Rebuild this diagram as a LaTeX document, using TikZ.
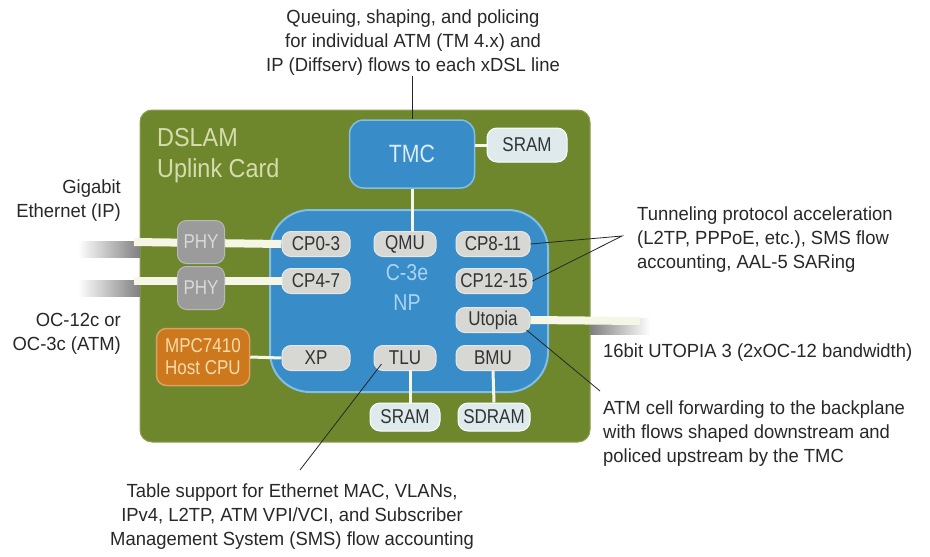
\documentclass[tikz,border=0pt]{standalone}
\usepackage{fontspec}
\setmainfont{Liberation Sans}
\newfontfamily\narrowf[FakeStretch=0.85]{Liberation Sans}
\newfontfamily\cardf[FakeStretch=0.9]{Liberation Sans}
\newfontfamily\notef[FakeStretch=0.97]{Liberation Sans}
\definecolor{card}{RGB}{111,135,44}
\definecolor{npblue}{RGB}{56,140,200}
\definecolor{npedge}{RGB}{130,190,230}
\definecolor{chipgray}{RGB}{215,215,212}
\definecolor{memfill}{RGB}{222,234,236}
\definecolor{phygray}{RGB}{155,155,155}
\definecolor{cpuorange}{RGB}{205,120,28}
\definecolor{wirecol}{RGB}{246,246,230}
\definecolor{notetext}{RGB}{40,40,40}
\tikzset{
  chip/.style={draw=chipgray!60!white, line width=1pt, fill=chipgray, rounded corners=9pt, minimum height=25pt, inner sep=0pt, text=black!80, font=\narrowf\fontsize{20}{20}\selectfont},
  mem/.style={draw=white, line width=1pt, fill=memfill, rounded corners=10pt, minimum height=28pt, inner sep=0pt, text=black!80, font=\narrowf\fontsize{20}{20}\selectfont},
  phy/.style={draw=phygray!70!white, line width=1pt, fill=phygray, rounded corners=9pt, minimum width=47pt, minimum height=43pt, inner sep=0pt, text=white!85!black, font=\narrowf\fontsize{20}{20}\selectfont},
  wire/.style={draw=wirecol, line width=3pt},
  thickwire/.style={draw=wirecol, line width=8pt},
  note/.style={text=notetext, font=\notef\fontsize{19}{24}\selectfont, inner sep=0pt},
  leader/.style={draw=black!85, line width=0.8pt},
}
\begin{document}
\begin{tikzpicture}[x=1pt,y=-1pt]
\useasboundingbox (0,0) rectangle (930,557);
\fill[white] (0,0) rectangle (930,557);
% card
\node[draw=card!80!white, line width=1pt, fill=card, rounded corners=12pt, minimum width=450pt, minimum height=332pt, inner sep=0pt] (card) at (365,276) {};
\node[anchor=north west, align=left, text={rgb,255:red,214;green,220;blue,174}, font=\cardf\fontsize{26}{31}\selectfont, inner sep=0pt] (cardlbl) at (157,128) {DSLAM\\Uplink Card};
% shadows of external wires
\fill[left color=white, right color=black!50] (78,241) rectangle (140,257);
\fill[left color=white, right color=black!50] (78,280) rectangle (140,296);
\fill[left color=black!50, right color=white] (590,318) rectangle (650,334);
% NP
\node[draw=npedge, line width=2pt, fill=npblue, rounded corners=40pt, minimum width=278pt, minimum height=182pt, inner sep=0pt] (np) at (409,301) {};
\node[align=center, text={rgb,255:red,170;green,212;blue,240}, font=\narrowf\fontsize{23}{30}\selectfont, inner sep=0pt] (nplbl) at (407,287) {C-3e\\NP};
% TMC
\node[draw=npedge, line width=1.5pt, fill=npblue, rounded corners=14pt, minimum width=125pt, minimum height=68pt, inner sep=0pt, text={rgb,255:red,220;green,236;blue,248}, font=\narrowf\fontsize{25}{25}\selectfont] (tmc) at (412,154) {TMC};
\node[mem, minimum width=80pt, minimum height=34pt] (sramt) at (527,145) {SRAM};
% chips
\node[chip, minimum width=68pt] (cp03) at (316,244) {CP0-3};
\node[chip, minimum width=62pt] (qmu) at (405,244) {QMU};
\node[chip, minimum width=74pt] (cp811) at (493,244) {CP8-11};
\node[chip, minimum width=68pt] (cp47) at (316,281) {CP4-7};
\node[chip, minimum width=76pt] (cp1215) at (494,281) {CP12-15};
\node[chip, minimum width=74pt] (utopia) at (493,320) {Utopia};
\node[chip, minimum width=68pt] (xp) at (316,358) {XP};
\node[chip, minimum width=62pt] (tlu) at (405,358) {TLU};
\node[chip, minimum width=74pt] (bmu) at (493,358) {BMU};
\node[mem, minimum width=70pt] (sramb) at (405,417) {SRAM};
\node[mem, minimum width=72pt] (sdram) at (494,417) {SDRAM};
% PHY and CPU
\coordinate (gbe) at (134,242);
\coordinate (oc) at (134,281);
\coordinate (bp) at (640,321);
\draw[thickwire] (gbe) -- (cp03.west);
\draw[thickwire] (oc) -- (cp47.west);
\draw[thickwire] (utopia.east) -- (bp);
\node[phy] (phy1) at (201,242) {PHY};
\node[phy] (phy2) at (201,288) {PHY};
\node[draw=cpuorange!70!white, line width=1.5pt, fill=cpuorange, rounded corners=10pt, minimum width=93pt, minimum height=57pt, inner sep=0pt, align=center, text={rgb,255:red,248;green,220;blue,170}, font=\narrowf\fontsize{20}{22}\selectfont] (cpu) at (203,357) {MPC7410\\Host CPU};
% internal wires
\draw[wire] (cpu.east) -- (xp.west);
\draw[wire] (tmc.south) -- (tmc.south |- qmu.north);
\draw[wire] (tmc.east |- sramt.west) -- (sramt.west);
\draw[wire] (sramb.north) ++(5,0) -- ++(0,-33);
\draw[wire] (bmu.south) -- (sdram.north);
% annotations
\node[note, align=center] (topnote) at (413,43) {Queuing, shaping, and policing\\for individual ATM (TM 4.x) and\\IP (Diffserv) flows to each xDSL line};
\draw[leader] (topnote.south -| tmc.north) -- (tmc.north);
\node[note, align=right, anchor=east] (gbelbl) at (121,201) {Gigabit\\Ethernet (IP)};
\node[note, align=right, anchor=east] (oclbl) at (121,334) {OC-12c or\\OC-3c (ATM)};
\node[note, align=left, anchor=west] (tunnel) at (637,240) {Tunneling protocol acceleration\\(L2TP, PPPoE, etc.), SMS flow\\accounting, AAL-5 SARing};
\coordinate (tip) at (622,236);
\draw[leader] (cp811.east) -- (tip) -- (cp1215.east);
\node[note, anchor=west] (u3) at (603,353) {16bit UTOPIA 3 (2xOC-12 bandwidth)};
\node[note, align=left, anchor=west] (atm) at (603,434) {ATM cell forwarding to the backplane\\with flows shaped downstream and\\policed upstream by the TMC};
\coordinate (atmtip) at (600,391);
\draw[leader] (utopia.south east) ++(-4,-3) -- (atmtip);
\node[note, align=center] (table) at (292,517) {Table support for Ethernet MAC, VLANs,\\IPv4, L2TP, ATM VPI/VCI, and Subscriber\\Management System (SMS) flow accounting};
\coordinate (tbltop) at (300,470);
\draw[leader] (tlu.west) ++(8,6) -- (tbltop);
\end{tikzpicture}
\end{document}
